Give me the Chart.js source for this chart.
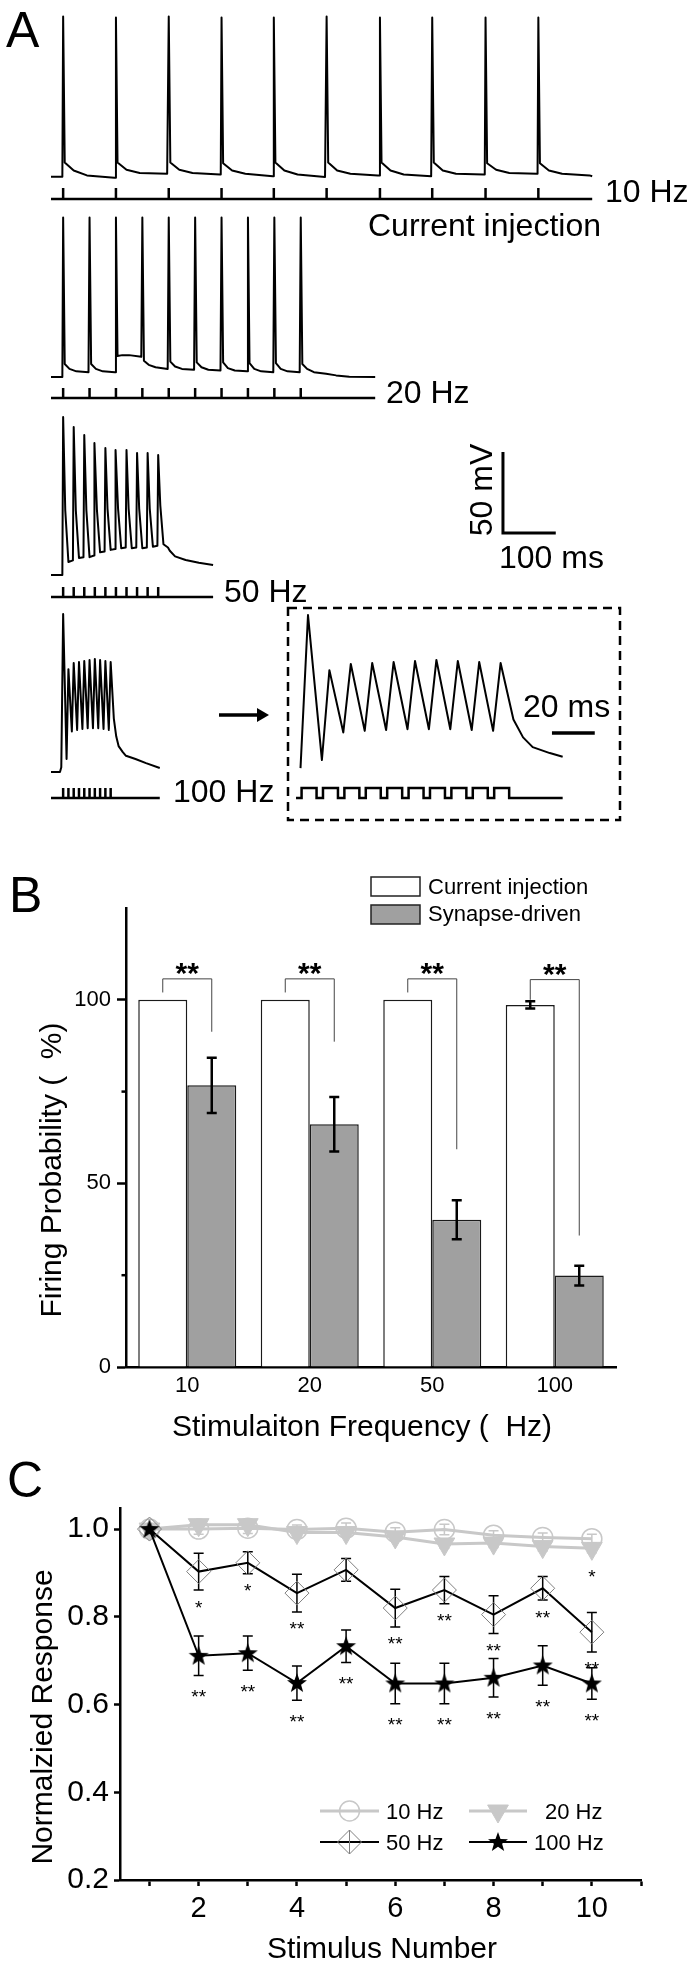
<!DOCTYPE html>
<html>
<head>
<meta charset="utf-8">
<title>Firing probability</title>
<script src="https://cdn.jsdelivr.net/npm/chart.js@4.4.1/dist/chart.umd.min.js"></script>
<style>
  html, body { margin: 0; padding: 0; background: #fff; }
  #page { position: relative; width: 695px; height: 1964px; overflow: hidden; background: #fff; }
  #page canvas { position: absolute; }
</style>
</head>
<body>
<div id="page"></div>
<script>
// ---------------- Panel A: membrane potential traces (ms, mV) ----------------
// spike rows: [peak time, peak mV, then mV at each decay offset of that row]
const decay10Hz = [3, 20, 45, 97];
const spikes10Hz = [
  [23, 34.0, -56.0, -61.0, -64.0, -65.5],
  [123, 33.5, -56.0, -60.5, -62.5, -63.0],
  [223, 34.0, -56.0, -60.5, -62.5, -63.5],
  [323, 33.5, -56.5, -61.0, -63.0, -64.5],
  [422, 33.5, -56.0, -61.0, -63.5, -65.0],
  [522, 34.0, -56.0, -61.0, -63.0, -64.0],
  [623, 33.5, -56.0, -61.0, -63.5, -64.5],
  [722, 33.5, -56.0, -61.0, -63.0, -63.5],
  [823, 33.5, -56.5, -60.5, -62.5, -63.0],
  [923, 33.5, -56.5, -61.0, -63.0, -64.0]
];
const tail10Hz = [[1025, -64.5]];
const stim10Hz = [23, 123, 223, 323, 422, 522, 623, 722, 823, 923];
const stimEnd10Hz = 1025;

const decay20Hz = [3, 12, 25, 48];
const spikes20Hz = [
  [23, 33.5, -57.0, -60.0, -61.5, -62.0],
  [73, 33.5, -57.0, -60.0, -61.5, -62.0],
  [123, 33.5, -52.0, -51.5, -51.5, -52.5],
  [173, 33.5, -55.0, -57.5, -59.0, -60.0],
  [223, 33.5, -55.5, -58.5, -60.0, -60.5],
  [273, 33.5, -56.0, -59.0, -60.5, -61.0],
  [323, 33.5, -56.0, -59.5, -61.0, -61.5],
  [373, 33.5, -56.5, -60.0, -61.5, -62.0],
  [423, 33.5, -56.5, -60.0, -61.5, -62.0],
  [473, 33.5, -57.0, -60.0, -62.0, -63.0]
];
const tail20Hz = [[540, -64.0], [565, -64.8], [614, -65.0]];
const stim20Hz = [23, 73, 123, 173, 223, 273, 323, 373, 423, 473];
const stimEnd20Hz = 614;

const decay50Hz = [4, 10, 18.5];
const spikes50Hz = [
  [23, 32.5, -25, -57.0, -56.0],
  [43, 26.4, -25, -54.5, -54.0],
  [63, 21.4, -25, -54.0, -53.0],
  [83, 16.5, -25, -51.0, -50.5],
  [103, 13.4, -24, -49.5, -49.0],
  [123, 12.2, -24, -48.5, -48.0],
  [143, 12.2, -24, -48.5, -48.0],
  [163, 10.3, -24, -48.5, -48.0],
  [183, 10.3, -24, -47.5, -47.0],
  [203, 9.1, -22, -46.0, -48.0]
];
const tail50Hz = [[225, -50.0], [235, -53.5], [255, -55.7], [280, -57.5], [307, -58.8]];
const stim50Hz = [23, 43, 63, 83, 103, 123, 143, 163, 183, 203];
const stimEnd50Hz = 307;

// 100 Hz burst [ms, mV]; the dashed inset shows 17-142 ms of the same trace
const trace100Hz = [
  [0, -65], [17, -65], [19.5, -62], [23, 32.5], [29.5, -57],
  [33, -1.5], [39.5, -40], [43, 2.3], [49.5, -39], [53, 2.9], [59.5, -38.5],
  [63, 3.5], [69.5, -38], [73, 4.1], [79.5, -38], [83, 4.8], [89.5, -38],
  [93, 4.1], [99.5, -38.5], [103, 3.5], [109.5, -39], [113, 2.9],
  [119, -32], [123.5, -43], [128, -49], [136, -52.7], [142, -55],
  [160, -57], [180, -59.5], [206, -62.5]
];
const stim100Hz = [23, 33, 43, 53, 63, 73, 83, 93, 103, 113];
const stimEnd100Hz = 206;
const pulses100Hz = [20, 30, 40, 50, 60, 70, 80, 90, 100, 110];
const pulseWidth = 7;
const insetWindow = [17.4, 142];

const scaleBarA = { t: 856, v: -39.1, ms: 100, mV: 50 };
const scaleBarInset = { t: 137, v: -40.3, ms: 20 };

// ---------------- Panel B ----------------
const freqLabels = ['10', '20', '50', '100'];
const currentInjection = [100, 100, 100, 98.6];
const currentInjectionErr = [0, 0, 0, 1.0];
const synapseDriven = [76.7, 66.1, 40.1, 24.9];
const synapseDrivenErr = [7.5, 7.4, 5.3, 2.7];
const bracketTop = [105.7, 105.7, 105.7, 105.5];
const bracketLeftEnd = [102, 102, 102, 100];
const bracketRightEnd = [91.3, 88.6, 59.3, 35.8];
const yTicksB = [0, 50, 100];
const yMinorB = [25, 75];

// ---------------- Panel C ----------------
const stimulusNumber = [1, 2, 3, 4, 5, 6, 7, 8, 9, 10];
const resp10Hz = [1.0, 1.0, 1.002, 0.999, 1.002, 0.993, 0.999, 0.986, 0.981, 0.978];
const err10Hz = [0, 0.012, 0.012, 0.01, 0.012, 0.01, 0.012, 0.01, 0.01, 0.01];
const resp20Hz = [1.0, 1.01, 1.01, 0.992, 0.992, 0.982, 0.966, 0.968, 0.96, 0.956];
const err20Hz = [0, 0.01, 0.01, 0.01, 0.01, 0.01, 0.01, 0.01, 0.01, 0.01];
const resp50Hz = [1.0, 0.903, 0.923, 0.854, 0.907, 0.820, 0.861, 0.805, 0.865, 0.765];
const err50Hz = [0, 0.042, 0.025, 0.043, 0.026, 0.043, 0.031, 0.043, 0.027, 0.045];
const resp100Hz = [1.0, 0.711, 0.717, 0.649, 0.733, 0.648, 0.648, 0.661, 0.689, 0.648];
const err100Hz = [0, 0.045, 0.039, 0.039, 0.037, 0.046, 0.046, 0.044, 0.045, 0.036];
const sig20Hz = ['', '', '', '', '', '', '', '', '', '*'];
const sig50Hz = ['', '*', '*', '**', '', '**', '**', '**', '**', '**'];
const sig100Hz = ['', '**', '**', '**', '**', '**', '**', '**', '**', '**'];
const xTicksC = [1, 2, 3, 4, 5, 6, 7, 8, 9, 10, 11];
const yTicksC = [0.2, 0.4, 0.6, 0.8, 1.0];

// ---------------- helpers ----------------
const FONT = "'Liberation Sans', Arial, Helvetica, sans-serif";
Chart.defaults.font.family = FONT;
Chart.defaults.color = '#000';
const page = document.getElementById('page');

function makeCanvas(box) {
  const c = document.createElement('canvas');
  c.width = box.w; c.height = box.h;
  c.style.cssText = `left:${box.x}px;top:${box.y}px;width:${box.w}px;height:${box.h}px`;
  page.appendChild(c);
  return c;
}

function text(ctx, box, str, x, y, size, opt = {}) {
  ctx.save();
  ctx.font = `${opt.weight || 'normal'} ${size}px ${FONT}`;
  ctx.fillStyle = '#000';
  ctx.textAlign = opt.align || 'left';
  ctx.textBaseline = 'alphabetic';
  ctx.translate(x - box.x, y - box.y);
  if (opt.rot) ctx.rotate(opt.rot);
  ctx.fillText(str, 0, 0);
  ctx.restore();
}

function buildTrace(startV, spikes, decayDt, tail) {
  const pts = [{ x: 0, y: startV }];
  spikes.forEach(s => {
    const last = pts[pts.length - 1];
    pts.push({ x: s[0] - 1.5, y: last.y }, { x: s[0], y: s[1] });
    decayDt.forEach((dt, k) => pts.push({ x: s[0] + dt, y: s[2 + k] }));
  });
  tail.forEach(([t, v]) => pts.push({ x: t, y: v }));
  return pts;
}
function stimPath(times, end) {
  const pts = [{ x: 0, y: 0 }];
  times.forEach(t => pts.push({ x: t, y: 0 }, { x: t, y: 1 }, { x: t, y: 0 }));
  pts.push({ x: end, y: 0 });
  return pts;
}
function pulsePath(starts, width, from, to) {
  const pts = [{ x: from, y: 0 }];
  starts.forEach(t => pts.push({ x: t, y: 0 }, { x: t, y: 1 }, { x: t + width, y: 1 }, { x: t + width, y: 0 }));
  pts.push({ x: to, y: 0 });
  return pts;
}
const line = (data, axis, width, join) => ({
  data, yAxisID: axis, showLine: true, borderColor: '#000', borderWidth: width,
  pointRadius: 0, fill: false, borderJoinStyle: join || 'round'
});

const PX_PER_MV = 1.62;
function traceChart(box, xmap, baselinePx, stim, datasets, draw) {
  const tAt = px => xmap.t + (px - xmap.px) / xmap.pxPerMs;
  const vAt = px => -65 + (baselinePx - px) / PX_PER_MV;
  const sAt = px => (stim.px - px) / stim.tick;
  return new Chart(makeCanvas(box), {
    type: 'scatter',
    data: { datasets },
    options: {
      responsive: false, animation: false, events: [], devicePixelRatio: 1,
      layout: { padding: 0 },
      plugins: { legend: { display: false }, tooltip: { enabled: false } },
      scales: {
        x: { type: 'linear', display: false, min: tAt(box.x), max: tAt(box.x + box.w) },
        y: { type: 'linear', display: false, min: vAt(box.y + box.h), max: vAt(box.y) },
        ys: { type: 'linear', axis: 'y', display: false, min: sAt(box.y + box.h), max: sAt(box.y) }
      }
    },
    plugins: [{ id: 'decor', afterDraw: ch => draw && draw(ch.ctx, box) }]
  });
}

// ---------------- Panel A charts ----------------
const mainX = { px: 51, t: 0, pxPerMs: 0.528 };

const box1 = { x: 0, y: 0, w: 695, h: 250 };
traceChart(box1, mainX, 177, { px: 199, tick: 11 }, [
  line(buildTrace(-64.8, spikes10Hz, decay10Hz, tail10Hz), 'y', 2),
  line(stimPath(stim10Hz, stimEnd10Hz), 'ys', 2.5, 'miter')
], (ctx, b) => {
  text(ctx, b, 'A', 6, 47, 50);
  text(ctx, b, '10 Hz', 605, 202, 32);
  text(ctx, b, 'Current injection', 368, 236, 32);
});

const box2 = { x: 0, y: 200, w: 695, h: 210 };
traceChart(box2, mainX, 377, { px: 398, tick: 10 }, [
  line(buildTrace(-65, spikes20Hz, decay20Hz, tail20Hz), 'y', 2),
  line(stimPath(stim20Hz, stimEnd20Hz), 'ys', 2.5, 'miter')
], (ctx, b) => {
  text(ctx, b, '20 Hz', 386, 403, 32);
});

const box3 = { x: 0, y: 400, w: 695, h: 210 };
traceChart(box3, mainX, 575, { px: 597, tick: 10 }, [
  line(buildTrace(-65, spikes50Hz, decay50Hz, tail50Hz), 'y', 2),
  line(stimPath(stim50Hz, stimEnd50Hz), 'ys', 2.5, 'miter'),
  line([
    { x: scaleBarA.t + scaleBarA.ms, y: scaleBarA.v },
    { x: scaleBarA.t, y: scaleBarA.v },
    { x: scaleBarA.t, y: scaleBarA.v + scaleBarA.mV }
  ], 'y', 3, 'miter')
], (ctx, b) => {
  text(ctx, b, '50 Hz', 224, 602, 32);
  text(ctx, b, '100 ms', 499, 568, 32);
  text(ctx, b, '50 mV', 492, 490, 32, { rot: -Math.PI / 2, align: 'center' });
});

const box4 = { x: 0, y: 600, w: 695, h: 210 };
traceChart(box4, mainX, 772, { px: 798, tick: 10 }, [
  line(trace100Hz.map(([x, y]) => ({ x, y })), 'y', 2),
  line(stimPath(stim100Hz, stimEnd100Hz), 'ys', 2.5, 'miter')
], (ctx, b) => {
  text(ctx, b, '100 Hz', 173, 802, 32);
  // arrow to the inset
  ctx.save();
  ctx.strokeStyle = '#000'; ctx.fillStyle = '#000'; ctx.lineWidth = 3.5;
  ctx.beginPath(); ctx.moveTo(219 - b.x, 715 - b.y); ctx.lineTo(259 - b.x, 715 - b.y); ctx.stroke();
  ctx.beginPath();
  ctx.moveTo(257 - b.x, 708 - b.y); ctx.lineTo(269 - b.x, 715 - b.y); ctx.lineTo(257 - b.x, 722 - b.y);
  ctx.closePath(); ctx.fill();
  ctx.restore();
});

const boxInset = { x: 280, y: 600, w: 350, h: 230 };
traceChart(boxInset, { px: 308, t: 23, pxPerMs: 2.14 }, 773, { px: 798, tick: 10 }, [
  line(trace100Hz.filter(([t]) => t >= insetWindow[0] && t <= insetWindow[1]).map(([x, y]) => ({ x, y })), 'y', 2),
  line(pulsePath(pulses100Hz, pulseWidth, insetWindow[0], insetWindow[1]), 'ys', 2.5, 'miter'),
  line([{ x: scaleBarInset.t, y: scaleBarInset.v }, { x: scaleBarInset.t + scaleBarInset.ms, y: scaleBarInset.v }], 'y', 3.5, 'miter')
], (ctx, b) => {
  text(ctx, b, '20 ms', 523, 717, 32);
  ctx.save();
  ctx.strokeStyle = '#000'; ctx.lineWidth = 2.5; ctx.setLineDash([9, 6]);
  ctx.strokeRect(288 - b.x, 608 - b.y, 332, 212);
  ctx.restore();
});

// ---------------- Panel B ----------------
const boxB = { x: 0, y: 840, w: 695, h: 610 };
const panelB = {
  id: 'panelB',
  afterDatasetsDraw(chart) {
    const { ctx } = chart;
    const y = chart.scales.y;
    chart.data.datasets.forEach((ds, i) => {
      const meta = chart.getDatasetMeta(i);
      ds.errorBars.forEach((e, j) => {
        if (!e) return;
        const x = meta.data[j].x, v = ds.data[j];
        const y1 = y.getPixelForValue(v + e), y2 = y.getPixelForValue(v - e);
        ctx.save();
        ctx.strokeStyle = '#000'; ctx.lineWidth = 2.5;
        ctx.beginPath();
        ctx.moveTo(x, y1); ctx.lineTo(x, y2);
        ctx.moveTo(x - 5, y1); ctx.lineTo(x + 5, y1);
        ctx.moveTo(x - 5, y2); ctx.lineTo(x + 5, y2);
        ctx.stroke();
        ctx.restore();
      });
    });
    const m0 = chart.getDatasetMeta(0), m1 = chart.getDatasetMeta(1);
    freqLabels.forEach((f, j) => {
      const xl = m0.data[j].x, xr = m1.data[j].x, top = y.getPixelForValue(bracketTop[j]);
      ctx.save();
      ctx.strokeStyle = '#444'; ctx.lineWidth = 1;
      ctx.beginPath();
      ctx.moveTo(xl, y.getPixelForValue(bracketLeftEnd[j]));
      ctx.lineTo(xl, top); ctx.lineTo(xr, top);
      ctx.lineTo(xr, y.getPixelForValue(bracketRightEnd[j]));
      ctx.stroke();
      ctx.restore();
      text(ctx, { x: 0, y: 0 }, '**', (xl + xr) / 2, top + 4, 30, { weight: 'bold', align: 'center' });
    });
  },
  afterDraw(chart) {
    const { ctx } = chart;
    const y = chart.scales.y, left = chart.chartArea.left;
    ctx.save();
    ctx.strokeStyle = '#000'; ctx.lineWidth = 2.5;
    yMinorB.forEach(v => {
      const py = y.getPixelForValue(v);
      ctx.beginPath(); ctx.moveTo(left - 4.5, py); ctx.lineTo(left, py); ctx.stroke();
    });
    // legend
    const rows = [{ top: 877, base: 894 }, { top: 905, base: 921 }];
    chart.data.datasets.forEach((ds, i) => {
      const r = rows[i];
      ctx.fillStyle = ds.backgroundColor; ctx.strokeStyle = '#222'; ctx.lineWidth = 1.5;
      ctx.fillRect(371, r.top - boxB.y, 49, 19);
      ctx.strokeRect(371, r.top - boxB.y, 49, 19);
      text(ctx, boxB, ds.label, 428, r.base, 22);
    });
    ctx.restore();
    text(ctx, boxB, 'B', 9, 912, 50);
    text(ctx, boxB, 'Firing Probability (  %)', 61, 1170, 30, { rot: -Math.PI / 2, align: 'center' });
    text(ctx, boxB, 'Stimulaiton Frequency (  Hz)', 362, 1436, 30, { align: 'center' });
  }
};

new Chart(makeCanvas(boxB), {
  type: 'bar',
  data: {
    labels: freqLabels,
    datasets: [
      { label: 'Current injection', data: currentInjection, errorBars: currentInjectionErr,
        backgroundColor: '#ffffff', borderColor: '#1a1a1a', borderWidth: 1.5 },
      { label: 'Synapse-driven', data: synapseDriven, errorBars: synapseDrivenErr,
        backgroundColor: '#a0a0a0', borderColor: '#1a1a1a', borderWidth: 1.5 }
    ]
  },
  options: {
    responsive: false, animation: false, events: [], devicePixelRatio: 1,
    layout: { padding: { top: 68, right: 79, left: 0, bottom: 0 } },
    datasets: { bar: { categoryPercentage: 0.8, barPercentage: 1.0 } },
    plugins: { legend: { display: false }, tooltip: { enabled: false } },
    scales: {
      x: {
        grid: { display: false, drawTicks: false },
        border: { display: true, color: '#000', width: 2.5 },
        ticks: { font: { size: 22 }, color: '#000', padding: 6 },
        afterFit: s => { s.height = 83; }
      },
      y: {
        min: 0, max: 125,
        afterBuildTicks: s => { s.ticks = yTicksB.map(v => ({ value: v })); },
        grid: { drawOnChartArea: false, tickLength: 9, tickWidth: 2.5, tickColor: '#000' },
        border: { color: '#000', width: 2.5 },
        ticks: { font: { size: 22 }, color: '#000', padding: 6 },
        afterFit: s => { s.width = 126; }
      }
    }
  },
  plugins: [panelB]
});

// ---------------- Panel C ----------------
const boxC = { x: 0, y: 1450, w: 695, h: 514 };

const starImg = document.createElement('canvas');
starImg.width = 22; starImg.height = 22;
(() => {
  const g = starImg.getContext('2d');
  g.fillStyle = '#000';
  g.beginPath();
  for (let k = 0; k < 10; k++) {
    const r = k % 2 === 0 ? 10.5 : 4.3;
    const a = -Math.PI / 2 + k * Math.PI / 5;
    g.lineTo(11 + r * Math.cos(a), 11.5 + r * Math.sin(a));
  }
  g.closePath(); g.fill();
})();

const series = (vals) => stimulusNumber.map((n, i) => ({ x: n, y: vals[i] }));
const GRAY = '#c8c8c8';

const panelC = {
  id: 'panelC',
  beforeDatasetsDraw(chart) {
    const { ctx } = chart;
    const y = chart.scales.y;
    chart.data.datasets.forEach((ds, i) => {
      const meta = chart.getDatasetMeta(i);
      ctx.save();
      ctx.strokeStyle = ds.errColor; ctx.lineWidth = 1.5;
      ds.errorBars.forEach((e, j) => {
        if (!e) return;
        const x = meta.data[j].x, v = ds.data[j].y;
        const y1 = y.getPixelForValue(v + e), y2 = y.getPixelForValue(v - e);
        ctx.beginPath();
        ctx.moveTo(x, y1); ctx.lineTo(x, y2);
        ctx.moveTo(x - 5, y1); ctx.lineTo(x + 5, y1);
        ctx.moveTo(x - 5, y2); ctx.lineTo(x + 5, y2);
        ctx.stroke();
      });
      ctx.restore();
    });
  },
  afterDatasetsDraw(chart) {
    const { ctx } = chart;
    const y = chart.scales.y;
    chart.data.datasets.forEach((ds, i) => {
      if (!ds.sig) return;
      const meta = chart.getDatasetMeta(i);
      ds.sig.forEach((s, j) => {
        if (!s) return;
        const x = meta.data[j].x;
        const cy = y.getPixelForValue(ds.data[j].y - ds.errorBars[j]) + ds.sigGap;
        text(ctx, { x: 0, y: 0 }, s, x, cy + 10.5, 19, { align: 'center' });
      });
    });
  },
  afterDraw(chart) {
    const { ctx } = chart;
    const entries = [
      { label: '10 Hz', x1: 320, x2: 379, tx: 386, y: 1811 },
      { label: '20 Hz', x1: 469, x2: 527, tx: 545, y: 1811 },
      { label: '50 Hz', x1: 320, x2: 379, tx: 386, y: 1842 },
      { label: '100 Hz', x1: 469, x2: 527, tx: 534, y: 1842 }
    ];
    entries.forEach(en => {
      const ds = chart.data.datasets.find(d => d.label === en.label);
      const yy = en.y - boxC.y, mx = (en.x1 + en.x2) / 2;
      ctx.save();
      ctx.strokeStyle = ds.borderColor; ctx.lineWidth = ds.borderWidth;
      ctx.beginPath(); ctx.moveTo(en.x1, yy); ctx.lineTo(en.x2, yy); ctx.stroke();
      if (ds.errColor !== GRAY && ds.label === '50 Hz') {
        ctx.strokeStyle = ds.pointBorderColor; ctx.lineWidth = 1;
        ctx.beginPath(); ctx.moveTo(mx, yy - 12); ctx.lineTo(mx, yy + 12); ctx.stroke();
      }
      ctx.fillStyle = ds.pointBackgroundColor || 'rgba(0,0,0,0)';
      ctx.strokeStyle = ds.pointBorderColor || ds.borderColor;
      ctx.lineWidth = ds.pointBorderWidth || 1;
      Chart.helpers.drawPoint(ctx, {
        pointStyle: ds.pointStyle, rotation: ds.pointRotation || 0,
        radius: ds.pointRadius, borderWidth: ctx.lineWidth
      }, mx, yy);
      ctx.restore();
      text(ctx, boxC, en.label, en.tx, en.y + 7.5, 22);
    });
    text(ctx, boxC, 'C', 7, 1497, 50);
    text(ctx, boxC, 'Normalzied Response', 52, 1717, 30, { rot: -Math.PI / 2, align: 'center' });
    text(ctx, boxC, 'Stimulus Number', 382, 1958, 30, { align: 'center' });
  }
};

new Chart(makeCanvas(boxC), {
  type: 'scatter',
  data: {
    datasets: [
      { label: '100 Hz', data: series(resp100Hz), errorBars: err100Hz, errColor: '#000',
        sig: sig100Hz, sigGap: 17, order: 0,
        showLine: true, borderColor: '#000', borderWidth: 2,
        pointStyle: starImg, pointRadius: 10 },
      { label: '50 Hz', data: series(resp50Hz), errorBars: err50Hz, errColor: '#000',
        sig: sig50Hz, sigGap: 13, order: 1,
        showLine: true, borderColor: '#000', borderWidth: 2,
        pointStyle: 'rectRot', pointRadius: 12, pointBorderWidth: 1,
        pointBorderColor: '#7f7f7f', pointBackgroundColor: 'rgba(0,0,0,0)' },
      { label: '20 Hz', data: series(resp20Hz), errorBars: err20Hz, errColor: GRAY,
        sig: sig20Hz, sigGap: 20, order: 2,
        showLine: true, borderColor: GRAY, borderWidth: 3,
        pointStyle: 'triangle', pointRotation: 180, pointRadius: 12, pointBorderWidth: 1,
        pointBorderColor: GRAY, pointBackgroundColor: GRAY },
      { label: '10 Hz', data: series(resp10Hz), errorBars: err10Hz, errColor: GRAY, order: 3,
        showLine: true, borderColor: GRAY, borderWidth: 3,
        pointStyle: 'circle', pointRadius: 10, pointBorderWidth: 1.5,
        pointBorderColor: GRAY, pointBackgroundColor: 'rgba(0,0,0,0)' }
    ]
  },
  options: {
    responsive: false, animation: false, events: [], devicePixelRatio: 1,
    layout: { padding: { top: 58, right: 54, left: 0, bottom: 0 } },
    plugins: { legend: { display: false }, tooltip: { enabled: false } },
    scales: {
      x: {
        type: 'linear', min: 0.4, max: 11,
        afterBuildTicks: s => { s.ticks = xTicksC.map(v => ({ value: v })); },
        grid: { drawOnChartArea: false, tickLength: 6, tickWidth: 2.5, tickColor: '#000' },
        border: { color: '#000', width: 2.5 },
        ticks: { font: { size: 29 }, color: '#000', padding: 6, autoSkip: false, maxRotation: 0,
                 callback: v => (v % 2 === 0 ? String(v) : '') },
        afterFit: s => { s.height = 84; }
      },
      y: {
        type: 'linear', min: 0.2, max: 1.048,
        afterBuildTicks: s => { s.ticks = yTicksC.map(v => ({ value: v })); },
        grid: { drawOnChartArea: false, tickLength: 6, tickWidth: 2.5, tickColor: '#000' },
        border: { color: '#000', width: 2.5 },
        ticks: { font: { size: 30 }, color: '#000', padding: 5, callback: v => v.toFixed(1) },
        afterFit: s => { s.width = 120; }
      }
    }
  },
  plugins: [panelC]
});
</script>
</body>
</html>
